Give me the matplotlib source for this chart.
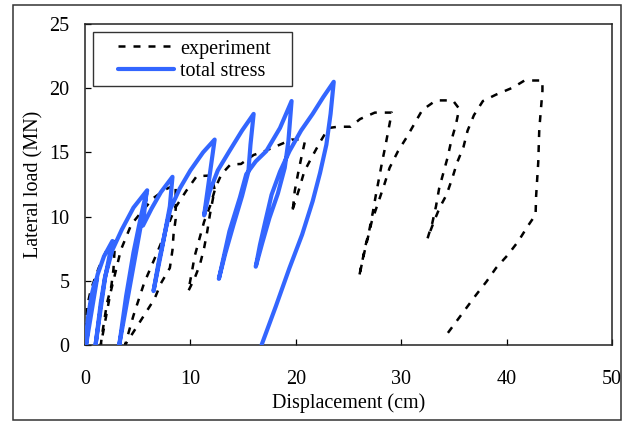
import matplotlib
matplotlib.use("Agg")
import matplotlib.pyplot as plt
from matplotlib.patches import Rectangle

plt.rcParams['font.family'] = ['Liberation Serif', 'DejaVu Serif']

# experiment (cyclic test), displacement in cm / load in MN
exp_x = [0.0, 0.2, 0.55, 1.3, 2.0, 2.75, 2.8, 2.7, 2.5, 2.1, 1.9, 1.6, 1.5,
         2.4, 3.4, 4.4, 5.4, 6.5, 7.6, 8.6,
         8.6, 8.6, 8.4, 8.3, 8.05, 7.2, 6.6, 5.75, 4.9, 3.8,
         4.6, 5.6, 6.9, 7.5, 8.5, 9.6, 10.6, 12.0,
         12.3, 11.85, 11.6, 11.3, 10.9, 10.4, 9.8,
         10.1, 10.4, 10.8, 11.3, 11.9, 12.4, 12.95, 13.8, 14.8, 16.0, 16.9, 18.2, 19.6, 20.7,
         20.85, 20.5, 20.2, 19.9, 19.75, 19.6,
         20.3, 20.8, 21.5, 22.3, 23.1, 24.0, 25.2, 26.1, 27.5, 29.1,
         28.8, 28.5, 28.2, 27.9, 27.6, 27.3, 26.95, 26.6, 26.3, 26.0,
         26.5, 27.2, 27.96, 28.4, 28.9, 29.7, 30.5, 31.3, 32.0, 33.3, 34.9,
         35.5, 35.2, 34.75, 34.4, 34.0, 33.6, 33.3, 32.95, 32.5,
         33.1, 33.65, 34.3, 34.85, 35.3, 35.9, 36.3, 36.9, 37.75, 39.0, 40.6, 41.7, 43.4,
         43.4, 43.1, 43.0, 42.8, 42.75, 42.0, 41.1, 40.1, 39.0, 38.1, 37.1, 36.2, 35.2, 34.3, 34.0]
exp_y = [0.0, 3.0, 4.3, 6.0, 7.3, 8.1, 7.3, 5.9, 4.6, 3.3, 2.3, 0.7, 0.0,
         4.0, 7.4, 9.4, 10.4, 11.45, 12.1, 12.5,
         11.0, 9.8, 8.6, 7.4, 6.0, 4.8, 3.6, 2.5, 1.4, 0.0,
         2.3, 4.8, 7.3, 8.5, 10.6, 12.0, 13.15, 13.2,
         12.1, 10.15, 8.85, 7.55, 6.25, 5.2, 4.2,
         5.5, 6.9, 8.1, 9.6, 10.9, 12.3, 13.3, 14.06, 14.1, 14.8, 15.05, 15.5, 16.0, 16.0,
         15.8, 14.5, 13.3, 12.0, 10.8, 10.3,
         12.1, 13.5, 14.6, 15.8, 16.9, 17.0, 17.0, 17.6, 18.1, 18.1,
         16.8, 15.5, 14.3, 13.0, 11.7, 10.3, 8.85, 7.7, 6.5, 5.3,
         7.2, 9.6, 11.45, 12.5, 13.8, 15.1, 16.15, 17.3, 18.3, 19.05, 19.05,
         18.4, 17.2, 15.9, 14.6, 13.4, 12.2, 10.8, 9.5, 8.3,
         9.6, 10.7, 11.7, 13.0, 14.2, 15.4, 16.7, 17.9, 19.0, 19.5, 20.05, 20.6, 20.6,
         19.8, 16.8, 14.2, 11.6, 10.15, 9.25, 8.07, 7.0, 6.0, 4.95, 3.9, 2.9, 1.8, 0.8, 0.5]

# total stress analysis
ts_x = [0.0, 0.3, 0.6, 0.9, 1.15, 0.1, 0.5, 1.2, 1.8, 2.6, 1.9, 1.0,
        1.5, 1.9, 2.6, 3.5, 4.6, 5.9, 3.25,
        3.9, 4.6, 5.3, 5.8, 5.5, 6.3, 7.2, 8.3,
        8.05, 7.3, 6.5, 7.0, 7.6, 8.1, 9.0, 10.0, 11.2, 12.3,
        11.3, 11.8, 12.6, 13.7, 14.9, 16.0,
        15.7, 15.5, 14.9, 14.1, 13.3, 12.7, 13.2, 13.7, 14.7, 15.3, 16.2, 17.2, 18.5, 19.6,
        19.3, 18.95, 18.3, 17.5, 16.8, 16.2, 16.6, 17.1, 17.7, 18.5, 19.4, 20.5, 21.6, 22.6, 23.6,
        23.3, 22.9, 22.3, 21.6, 20.6, 19.4, 18.1, 16.75]
ts_y = [0.0, 2.2, 3.8, 4.8, 5.2, 0.0, 3.0, 5.5, 6.9, 8.1, 5.2, 0.0,
        3.3, 5.3, 7.4, 9.0, 10.7, 12.05, 0.0,
        3.8, 7.2, 10.0, 11.8, 9.3, 10.6, 11.9, 13.1,
        10.8, 7.5, 4.2, 6.5, 8.8, 10.6, 12.2, 13.6, 15.0, 16.0,
        10.1, 11.9, 13.6, 15.1, 16.7, 18.0,
        15.6, 13.5, 11.6, 9.4, 7.1, 5.15, 7.0, 8.85, 11.5, 13.3, 14.3, 15.1, 16.9, 19.0,
        15.9, 13.8, 11.8, 9.9, 7.9, 6.1, 7.8, 9.6, 11.7, 13.5, 15.1, 16.7, 18.0, 19.3, 20.5,
        18.0, 15.6, 13.4, 11.2, 8.6, 6.0, 3.0, 0.0]

x_ticks = [0, 10, 20, 30, 40, 50]
y_ticks = [0, 5, 10, 15, 20, 25]

fig = plt.figure(figsize=(6.31, 4.21), dpi=100)
ax = fig.add_axes([0.1347, 0.1805, 0.8352, 0.7625])

ax.plot(exp_x, exp_y, color='black', lw=1.8, dashes=(2.8, 3.2), label='experiment', zorder=2)
ax.plot(ts_x, ts_y, color='#3366ff', lw=3.0, solid_joinstyle='round',
        solid_capstyle='round', label='total stress', zorder=3)

ax.set_xlim(0, 50)
ax.set_ylim(0, 25)
ax.set_xticks(x_ticks)
ax.set_yticks(y_ticks)
ax.tick_params(direction='in', length=4, width=0.9, labelsize=14.5, colors='black')
ax.tick_params(axis='x', pad=18)
ax.tick_params(axis='y', pad=11)
for s in ax.spines.values():
    s.set_linewidth(1.1)
    s.set_color('#222222')

ax.set_xlabel('Displacement (cm)', fontsize=14.5)
ax.set_ylabel('Lateral load (MN)', fontsize=14.5)
ax.xaxis.set_label_coords(0.5, -0.15)
ax.yaxis.set_label_coords(-0.078, 0.5)

leg = ax.legend(loc='upper left', bbox_to_anchor=(0.062, 0.952), fontsize=14.5,
                frameon=False, borderpad=0, labelspacing=0.15,
                handlelength=2.8, handletextpad=0.3, borderaxespad=0)

# legend box drawn by hand so the padding matches
ax.add_patch(Rectangle((0.0146, 0.807), 0.3774, 0.169, transform=ax.transAxes,
                       fill=False, edgecolor='#333333', linewidth=1.0, zorder=5))

# outer border around the whole chart
fig.patches.append(Rectangle((0.0206, 0.003), 0.9636, 0.985, transform=fig.transFigure,
                             fill=False, edgecolor='#333333', linewidth=1.1))

fig.savefig('out.png', dpi=100)
